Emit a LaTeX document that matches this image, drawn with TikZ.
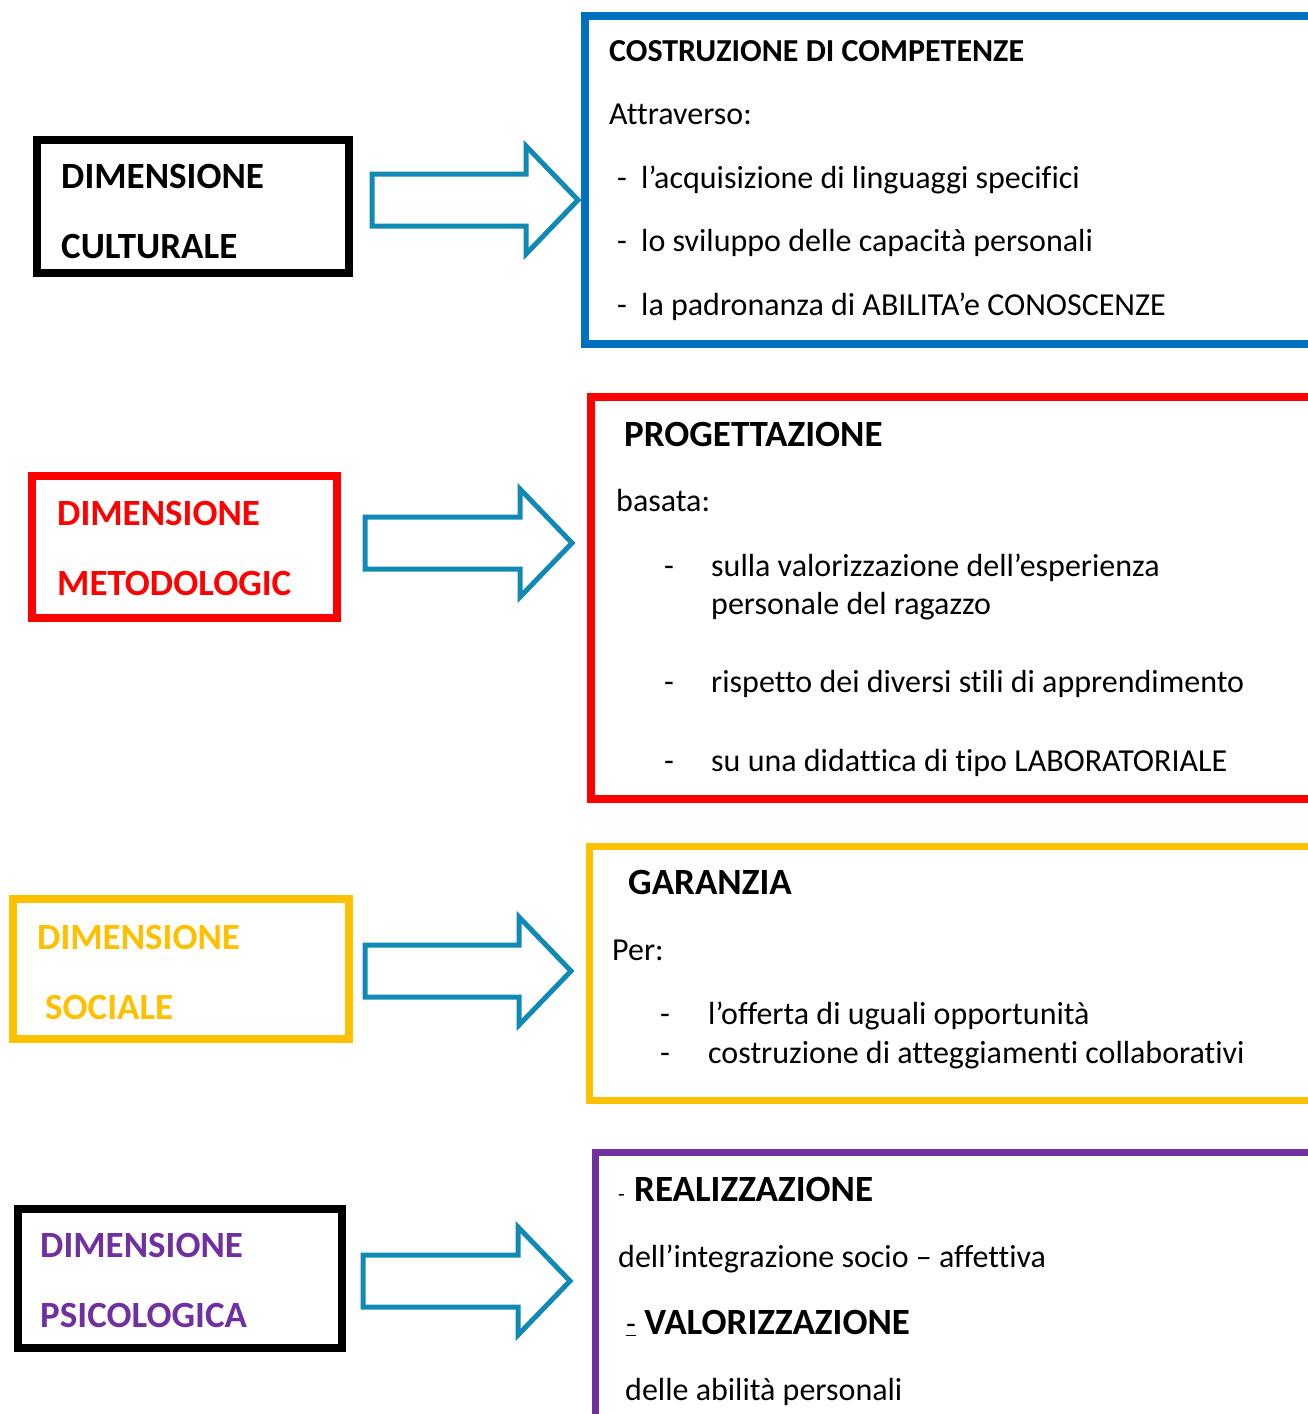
\documentclass[tikz,border=0pt]{standalone}
\usepackage{fontspec}
\setmainfont[Ligatures=NoCommon]{Carlito}
\definecolor{ablue}{HTML}{0070C0}
\definecolor{ared}{HTML}{FF0000}
\definecolor{ayel}{HTML}{FFC000}
\definecolor{apur}{HTML}{7030A0}
\definecolor{arrowc}{HTML}{1089B4}
\newcommand\blockarrow[3]{%
  \draw[blockarr] (#1,#3-26) -- (#2-52,#3-26) -- (#2-52,#3-54) -- (#2,#3) -- (#2-52,#3+54) -- (#2-52,#3+26) -- (#1,#3+26) -- cycle;}
\begin{document}
\begin{tikzpicture}[x=1pt,y=-1pt,
  framebox/.style={draw, line width=7.5pt, rectangle, inner sep=0pt, outer sep=0pt, anchor=north west},
  blockarr/.style={draw=arrowc, line width=5pt, fill=white, line join=miter},
  txt/.style={anchor=base west, inner sep=0pt, font=\fontsize{32}{38}\selectfont},
  sub/.style={anchor=base west, inner sep=0pt, font=\fontsize{32}{38}\selectfont\bfseries},
  ttl/.style={anchor=base west, inner sep=0pt, font=\fontsize{37}{44}\selectfont\bfseries}]
\useasboundingbox (0,0) rectangle (1308,1414);
\clip (0,0) rectangle (1308,1414);
\fill[white] (0,0) rectangle (1308,1414);

% left boxes
\node[framebox, draw=black, minimum width=312, minimum height=133] (c1) at (37,140) {};
\node[framebox, draw=ared, minimum width=305, minimum height=142] (c2) at (32,476) {};
\node[framebox, draw=ayel, minimum width=336, minimum height=140] (c3) at (13,899) {};
\node[framebox, draw=black, minimum width=324, minimum height=139] (c4) at (18,1209) {};

\node[ttl] (c1a) at (61,188) {DIMENSIONE};
\node[ttl] (c1b) at (61,258) {CULTURALE};
\node[ttl, text=ared] (c2a) at (57,525) {DIMENSIONE};
\node[ttl, text=ared] (c2b) at (57,595) {METODOLOGIC};
\node[ttl, text=ayel] (c3a) at (37,949) {DIMENSIONE};
\node[ttl, text=ayel] (c3b) at (45,1019) {SOCIALE};
\node[ttl, text=apur] (c4a) at (40,1257) {DIMENSIONE};
\node[ttl, text=apur] (c4b) at (40,1327) {PSICOLOGICA};

% right boxes (open to the right / bottom, clipped)
\node[framebox, draw=ablue, minimum width=800, minimum height=328] (r1) at (585,16) {};
\node[framebox, draw=ared, minimum width=800, minimum height=402] (r2) at (591,397) {};
\node[framebox, draw=ayel, line width=7pt, minimum width=800, minimum height=254] (r3) at (589.5,846.5) {};
\node[framebox, draw=apur, line width=7pt, minimum width=800, minimum height=400] (r4) at (595.5,1152.5) {};

% arrows
\blockarrow{372}{578}{200}
\blockarrow{365}{572}{543}
\blockarrow{365}{571}{971}
\blockarrow{363}{570}{1281}

% box 1 text
\node[sub] (t1) at (609,61) {COSTRUZIONE DI COMPETENZE};
\node[txt] (t2) at (609,124) {Attraverso:};
\node[txt] (d1) at (617,188) {-};
\node[txt] (t3) at (641,188) {l’acquisizione di linguaggi specifici};
\node[txt] (d2) at (617,251) {-};
\node[txt] (t4) at (641,251) {lo sviluppo delle capacità personali};
\node[txt] (d3) at (617,315) {-};
\node[txt] (t5) at (641,315) {la padronanza di ABILITA’e CONOSCENZE};

% box 2 text
\node[ttl] (p1) at (624,446) {PROGETTAZIONE};
\node[txt] (p2) at (616,511) {basata:};
\node[txt] (pd1) at (664,576) {-};
\node[txt] (p3) at (711,576) {sulla valorizzazione dell’esperienza};
\node[txt] (p4) at (711,614) {personale del ragazzo};
\node[txt] (pd2) at (664,692) {-};
\node[txt] (p5) at (711,692) {rispetto dei diversi stili di apprendimento};
\node[txt] (pd3) at (664,771) {-};
\node[txt] (p6) at (711,771) {su una didattica di tipo LABORATORIALE};

% box 3 text
\node[ttl] (g1) at (628,894) {GARANZIA};
\node[txt] (g2) at (612,960) {Per:};
\node[txt] (gd1) at (660,1024) {-};
\node[txt] (g3) at (708,1024) {l’offerta di uguali opportunità};
\node[txt] (gd2) at (660,1063) {-};
\node[txt] (g4) at (708,1063) {costruzione di atteggiamenti collaborativi};

% box 4 text
\node[txt, font=\fontsize{22}{26}\selectfont] (sd1) at (618,1201) {-};
\node[ttl] (s1) at (634,1201) {REALIZZAZIONE};
\node[txt] (s2) at (618,1267) {dell’integrazione socio – affettiva};
\node[ttl] (s3) at (626,1334) {\underline{\mdseries\fontsize{32}{38}\selectfont -} VALORIZZAZIONE};
\node[txt] (s4) at (625,1400) {delle abilità personali};
\end{tikzpicture}
\end{document}
